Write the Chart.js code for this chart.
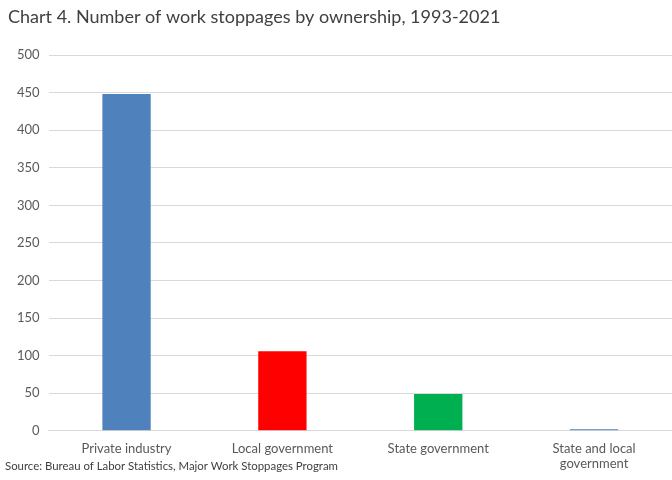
<!DOCTYPE html>
<html>
<head>
<meta charset="utf-8">
<script src="https://cdn.jsdelivr.net/npm/chart.js@4"></script>
<style>
  body { margin: 0; background: #fff; }
  #wrap { width: 672px; height: 480px; }
</style>
</head>
<body>
<div id="wrap"><canvas id="chart"></canvas></div>
<script>
// Chart data
const categories = ['Private industry', 'Local government', 'State government', ['State and local', 'government']];
const stoppages = [448, 106, 49, 2];
const barColors = ['#4F81BD', '#FF0000', '#00B050', '#4F81BD'];
const yTicks = [0, 50, 100, 150, 200, 250, 300, 350, 400, 450, 500];

const titleText = 'Chart 4. Number of work stoppages by ownership, 1993-2021';
const sourceText = 'Source: Bureau of Labor Statistics, Major Work Stoppages Program';

// Draw title and source note on the canvas
const textPlugin = {
    id: 'textPlugin',
    afterDraw(chart) {
        const ctx = chart.ctx;
        ctx.save();
        ctx.fillStyle = '#404040';
        ctx.textBaseline = 'middle';
        ctx.textAlign = 'left';
        ctx.font = '18px Lato';
        ctx.fillText(titleText, 8, 17);
        ctx.font = '11.4px Lato';
        ctx.fillText(sourceText, 5, 466);
        ctx.restore();
    }
};

new Chart(document.getElementById('chart'), {
    type: 'bar',
    data: {
        labels: categories,
        datasets: [{
            data: stoppages,
            backgroundColor: barColors,
            categoryPercentage: 1,
            barPercentage: 0.31
        }]
    },
    options: {
        responsive: true,
        maintainAspectRatio: false,
        animation: false,
        layout: { padding: { top: 55, right: 0, left: 8, bottom: 6 } },
        plugins: {
            legend: { display: false },
            title: { display: false },
            tooltip: { enabled: false }
        },
        scales: {
            x: {
                grid: { display: false },
                border: { color: '#D9D9D9' },
                ticks: {
                    color: '#595959',
                    font: { family: 'Lato', size: 13 },
                    maxRotation: 0,
                    padding: 2
                }
            },
            y: {
                min: 0,
                max: 500,
                afterBuildTicks(axis) {
                    axis.ticks = yTicks.map(v => ({ value: v }));
                },
                grid: { color: '#D9D9D9', drawTicks: false },
                border: { display: false },
                ticks: {
                    color: '#595959',
                    font: { family: 'Lato', size: 13 },
                    padding: 9
                }
            }
        }
    },
    plugins: [textPlugin]
});
</script>
</body>
</html>
